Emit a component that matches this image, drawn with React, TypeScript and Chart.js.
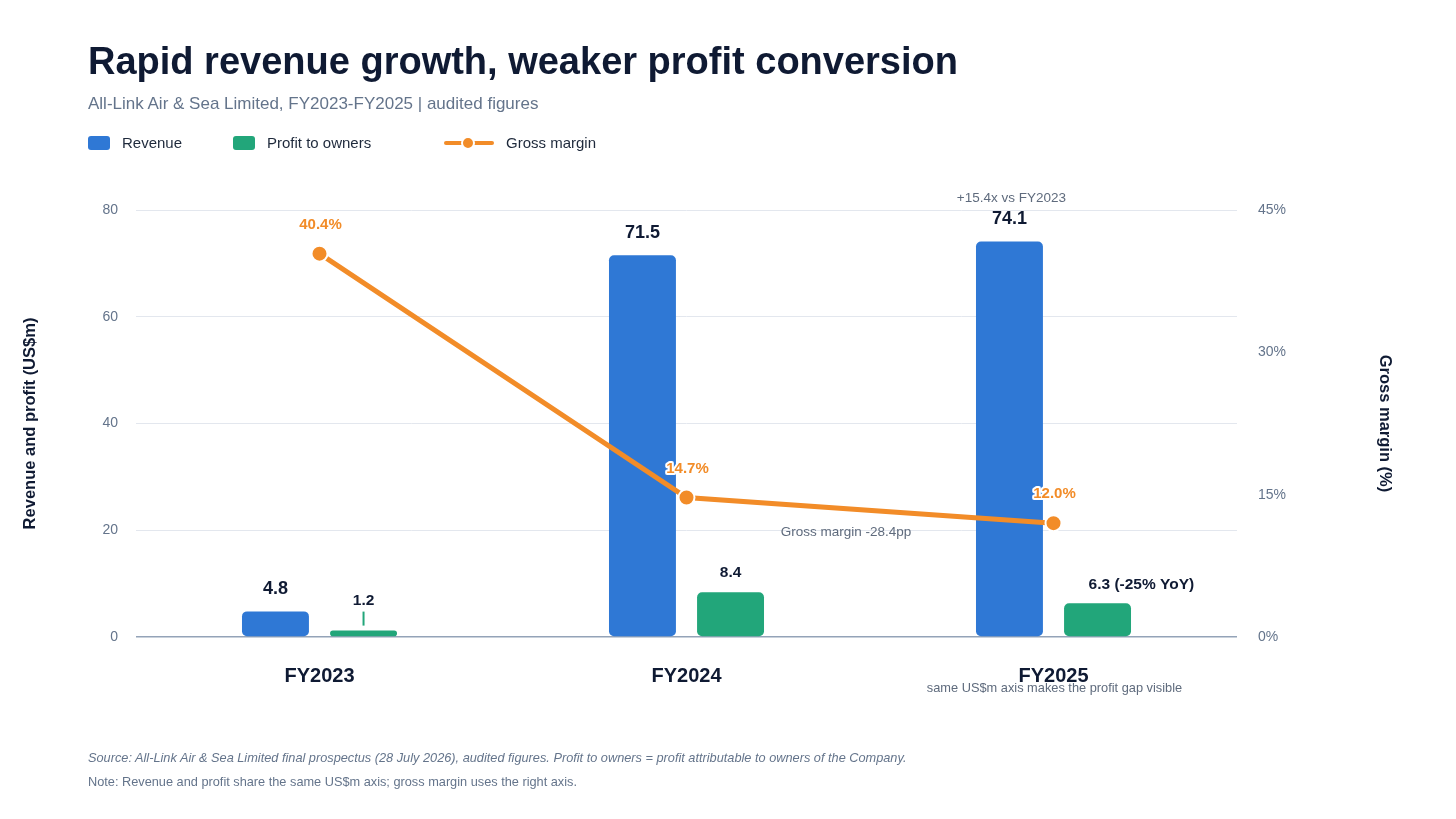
import React, { useEffect, useRef } from "react";
import { Chart, registerables } from "chart.js";

Chart.register(...registerables);

const categories = ["FY2023", "FY2024", "FY2025"];
const revenue = [4.8, 71.5, 74.1];
const profit = [1.2, 8.4, 6.3];
const grossMargin = [40.4, 14.7, 12.0];
const revenueLabels = ["4.8", "71.5", "74.1"];
const profitLabels = ["1.2", "8.4", "6.3 (-25% YoY)"];
const marginLabels = ["40.4%", "14.7%", "12.0%"];
const leftAxis = { min: 0, max: 80, step: 20 };
const rightAxis = { min: 0, max: 45, step: 15 };

const FONT = '"Liberation Sans", Arial, Helvetica, sans-serif';
const C_REV = "#2F78D5";
const C_PROFIT = "#22A67A";
const C_GM = "#F28C28";
const C_DARK = "#0f1a33";
const C_GREY = "#5f6b7d";

const labelPlugin = {
  id: "customLabels",
  afterDatasetsDraw(chart: any) {
    const ctx = chart.ctx;
    const rev = chart.getDatasetMeta(0).data;
    const pro = chart.getDatasetMeta(1).data;
    const gm = chart.getDatasetMeta(2).data;
    const area = chart.chartArea;
    ctx.save();
    ctx.textAlign = "center";
    ctx.textBaseline = "middle";

    // revenue labels
    ctx.font = `bold 18px ${FONT}`;
    ctx.fillStyle = C_DARK;
    rev.forEach((b: any, i: number) => ctx.fillText(revenueLabels[i], b.x, b.y - 22));

    // profit labels
    ctx.font = `bold 15.5px ${FONT}`;
    pro.forEach((b: any, i: number) => {
      const h = b.base - b.y;
      ctx.fillStyle = C_DARK;
      if (h < 12) {
        ctx.strokeStyle = C_PROFIT;
        ctx.lineWidth = 2;
        ctx.beginPath();
        ctx.moveTo(b.x, b.y - 5);
        ctx.lineTo(b.x, b.y - 19);
        ctx.stroke();
        ctx.fillText(profitLabels[i], b.x, b.y - 30);
      } else if (i === pro.length - 1) {
        ctx.textAlign = "left";
        ctx.fillText(profitLabels[i], b.x - 9, b.y - 19);
        ctx.textAlign = "center";
      } else {
        ctx.fillText(profitLabels[i], b.x, b.y - 19);
      }
    });

    // gross margin labels
    ctx.font = `bold 15px ${FONT}`;
    ctx.lineJoin = "round";
    gm.forEach((p: any, i: number) => {
      ctx.strokeStyle = "#ffffff";
      ctx.lineWidth = 4;
      ctx.strokeText(marginLabels[i], p.x + 1, p.y - 29);
      ctx.fillStyle = C_GM;
      ctx.fillText(marginLabels[i], p.x + 1, p.y - 29);
    });

    // annotations
    ctx.font = `13.5px ${FONT}`;
    ctx.fillStyle = C_GREY;
    const lastRev = rev[rev.length - 1];
    ctx.fillText("+15.4x vs FY2023", lastRev.x + 2, area.top - 12);
    const p1 = gm[1];
    const p2 = gm[2];
    ctx.fillText("Gross margin -28.4pp", (p1.x + p2.x) / 2 - 24, (p1.y + p2.y) / 2 + 22);
    ctx.restore();
  },
  afterDraw(chart: any) {
    const ctx = chart.ctx;
    const xs = chart.scales.x;
    const area = chart.chartArea;
    ctx.save();
    ctx.textAlign = "center";
    ctx.textBaseline = "middle";
    ctx.font = `12.8px ${FONT}`;
    ctx.fillStyle = C_GREY;
    ctx.fillText(
      "same US$m axis makes the profit gap visible",
      xs.getPixelForValue(categories.length - 1) + 1,
      area.bottom + 51
    );
    ctx.restore();
  },
};

function ChartCanvas() {
  const ref = useRef<HTMLCanvasElement | null>(null);
  useEffect(() => {
    if (!ref.current) return;
    const chart = new Chart(ref.current, {
      type: "bar",
      data: {
        labels: categories,
        datasets: [
          {
            type: "bar",
            label: "Revenue",
            data: revenue,
            backgroundColor: C_REV,
            borderRadius: 5,
            borderSkipped: false,
            categoryPercentage: 0.48,
            barPercentage: 0.76,
            yAxisID: "y",
            order: 2,
          },
          {
            type: "bar",
            label: "Profit to owners",
            data: profit,
            backgroundColor: C_PROFIT,
            borderRadius: 5,
            borderSkipped: false,
            categoryPercentage: 0.48,
            barPercentage: 0.76,
            yAxisID: "y",
            order: 2,
          },
          {
            type: "line",
            label: "Gross margin",
            data: grossMargin,
            borderColor: C_GM,
            backgroundColor: C_GM,
            borderWidth: 5,
            pointRadius: 8,
            pointBorderColor: "#ffffff",
            pointBorderWidth: 2,
            pointBackgroundColor: C_GM,
            tension: 0,
            yAxisID: "y1",
            order: 0,
          } as any,
        ],
      },
      options: {
        responsive: false,
        animation: false,
        devicePixelRatio: 1,
        layout: { padding: { left: 17, right: 58, top: 210, bottom: 122 } },
        plugins: {
          legend: { display: false },
          tooltip: { enabled: false },
          title: { display: false },
        },
        scales: {
          x: {
            offset: true,
            grid: { display: false },
            border: { display: false },
            ticks: {
              padding: 19,
              color: C_DARK,
              font: { family: FONT, size: 20, weight: "bold" },
            },
            afterFit: (s: any) => {
              s.height = 60;
            },
          },
          y: {
            position: "left",
            min: leftAxis.min,
            max: leftAxis.max,
            ticks: {
              stepSize: leftAxis.step,
              padding: 18,
              color: "#64748b",
              font: { family: FONT, size: 14 },
            },
            grid: {
              drawTicks: false,
              color: (c: any) => (c.tick && c.tick.value === 0 ? "#94a3b8" : "#e3e7ee"),
              lineWidth: (c: any) => (c.tick && c.tick.value === 0 ? 1.5 : 1),
            },
            border: { display: false },
            title: {
              display: true,
              text: "Revenue and profit (US$m)",
              color: C_DARK,
              font: { family: FONT, size: 16.5, weight: "bold" },
            },
            afterFit: (s: any) => {
              s.width = 119;
            },
          },
          y1: {
            position: "right",
            min: rightAxis.min,
            max: rightAxis.max,
            ticks: {
              stepSize: rightAxis.step,
              padding: 21,
              color: "#64748b",
              font: { family: FONT, size: 14 },
              callback: (v: any) => `${v}%`,
            },
            grid: { display: false, drawTicks: false },
            border: { display: false },
            title: {
              display: true,
              text: "Gross margin (%)",
              color: C_DARK,
              font: { family: FONT, size: 16.5, weight: "bold" },
            },
            afterFit: (s: any) => {
              s.width = 161;
            },
          },
        },
      } as any,
      plugins: [labelPlugin],
    });
    return () => chart.destroy();
  }, []);
  return (
    <canvas
      ref={ref}
      width={1456}
      height={819}
      style={{ position: "absolute", left: 0, top: 0, width: 1456, height: 819 }}
    />
  );
}

const legendItems = [
  { label: "Revenue", kind: "box", color: C_REV, x: 88, tx: 122 },
  { label: "Profit to owners", kind: "box", color: C_PROFIT, x: 233, tx: 267 },
  { label: "Gross margin", kind: "line", color: C_GM, x: 444, tx: 506 },
];

export default function App() {
  return (
    <div
      style={{
        position: "absolute",
        left: 0,
        top: 0,
        width: 1456,
        height: 819,
        background: "#ffffff",
        fontFamily: FONT,
        overflow: "hidden",
      }}
    >
      <ChartCanvas />
      <div
        style={{
          position: "absolute",
          left: 88,
          top: 42,
          fontSize: 38,
          lineHeight: "38px",
          fontWeight: 700,
          color: C_DARK,
          whiteSpace: "nowrap",
        }}
      >
        Rapid revenue growth, weaker profit conversion
      </div>
      <div
        style={{
          position: "absolute",
          left: 88,
          top: 94,
          fontSize: 17,
          lineHeight: "20px",
          color: "#64748b",
          whiteSpace: "nowrap",
        }}
      >
        All-Link Air &amp; Sea Limited, FY2023-FY2025 | audited figures
      </div>
      {legendItems.map((it) => (
        <React.Fragment key={it.label}>
          {it.kind === "box" ? (
            <div
              style={{
                position: "absolute",
                left: it.x,
                top: 136,
                width: 22,
                height: 14,
                borderRadius: 3,
                background: it.color,
              }}
            />
          ) : (
            <div style={{ position: "absolute", left: it.x, top: 133, width: 50, height: 20 }}>
              <div
                style={{
                  position: "absolute",
                  left: 0,
                  top: 8,
                  width: 50,
                  height: 4,
                  borderRadius: 2,
                  background: it.color,
                }}
              />
              <div
                style={{
                  position: "absolute",
                  left: 17,
                  top: 3,
                  width: 14,
                  height: 14,
                  borderRadius: 7,
                  background: it.color,
                  boxSizing: "border-box",
                  border: "2px solid #ffffff",
                }}
              />
            </div>
          )}
          <div
            style={{
              position: "absolute",
              left: it.tx,
              top: 134,
              fontSize: 15,
              lineHeight: "18px",
              color: "#1e293b",
              whiteSpace: "nowrap",
            }}
          >
            {it.label}
          </div>
        </React.Fragment>
      ))}
      <div
        style={{
          position: "absolute",
          left: 88,
          top: 750,
          fontSize: 12.75,
          lineHeight: "16px",
          fontStyle: "italic",
          color: "#64748b",
          whiteSpace: "nowrap",
        }}
      >
        Source: All-Link Air &amp; Sea Limited final prospectus (28 July 2026), audited figures. Profit to owners =
        profit attributable to owners of the Company.
      </div>
      <div
        style={{
          position: "absolute",
          left: 88,
          top: 774,
          fontSize: 12.75,
          lineHeight: "16px",
          color: "#64748b",
          whiteSpace: "nowrap",
        }}
      >
        Note: Revenue and profit share the same US$m axis; gross margin uses the right axis.
      </div>
    </div>
  );
}
